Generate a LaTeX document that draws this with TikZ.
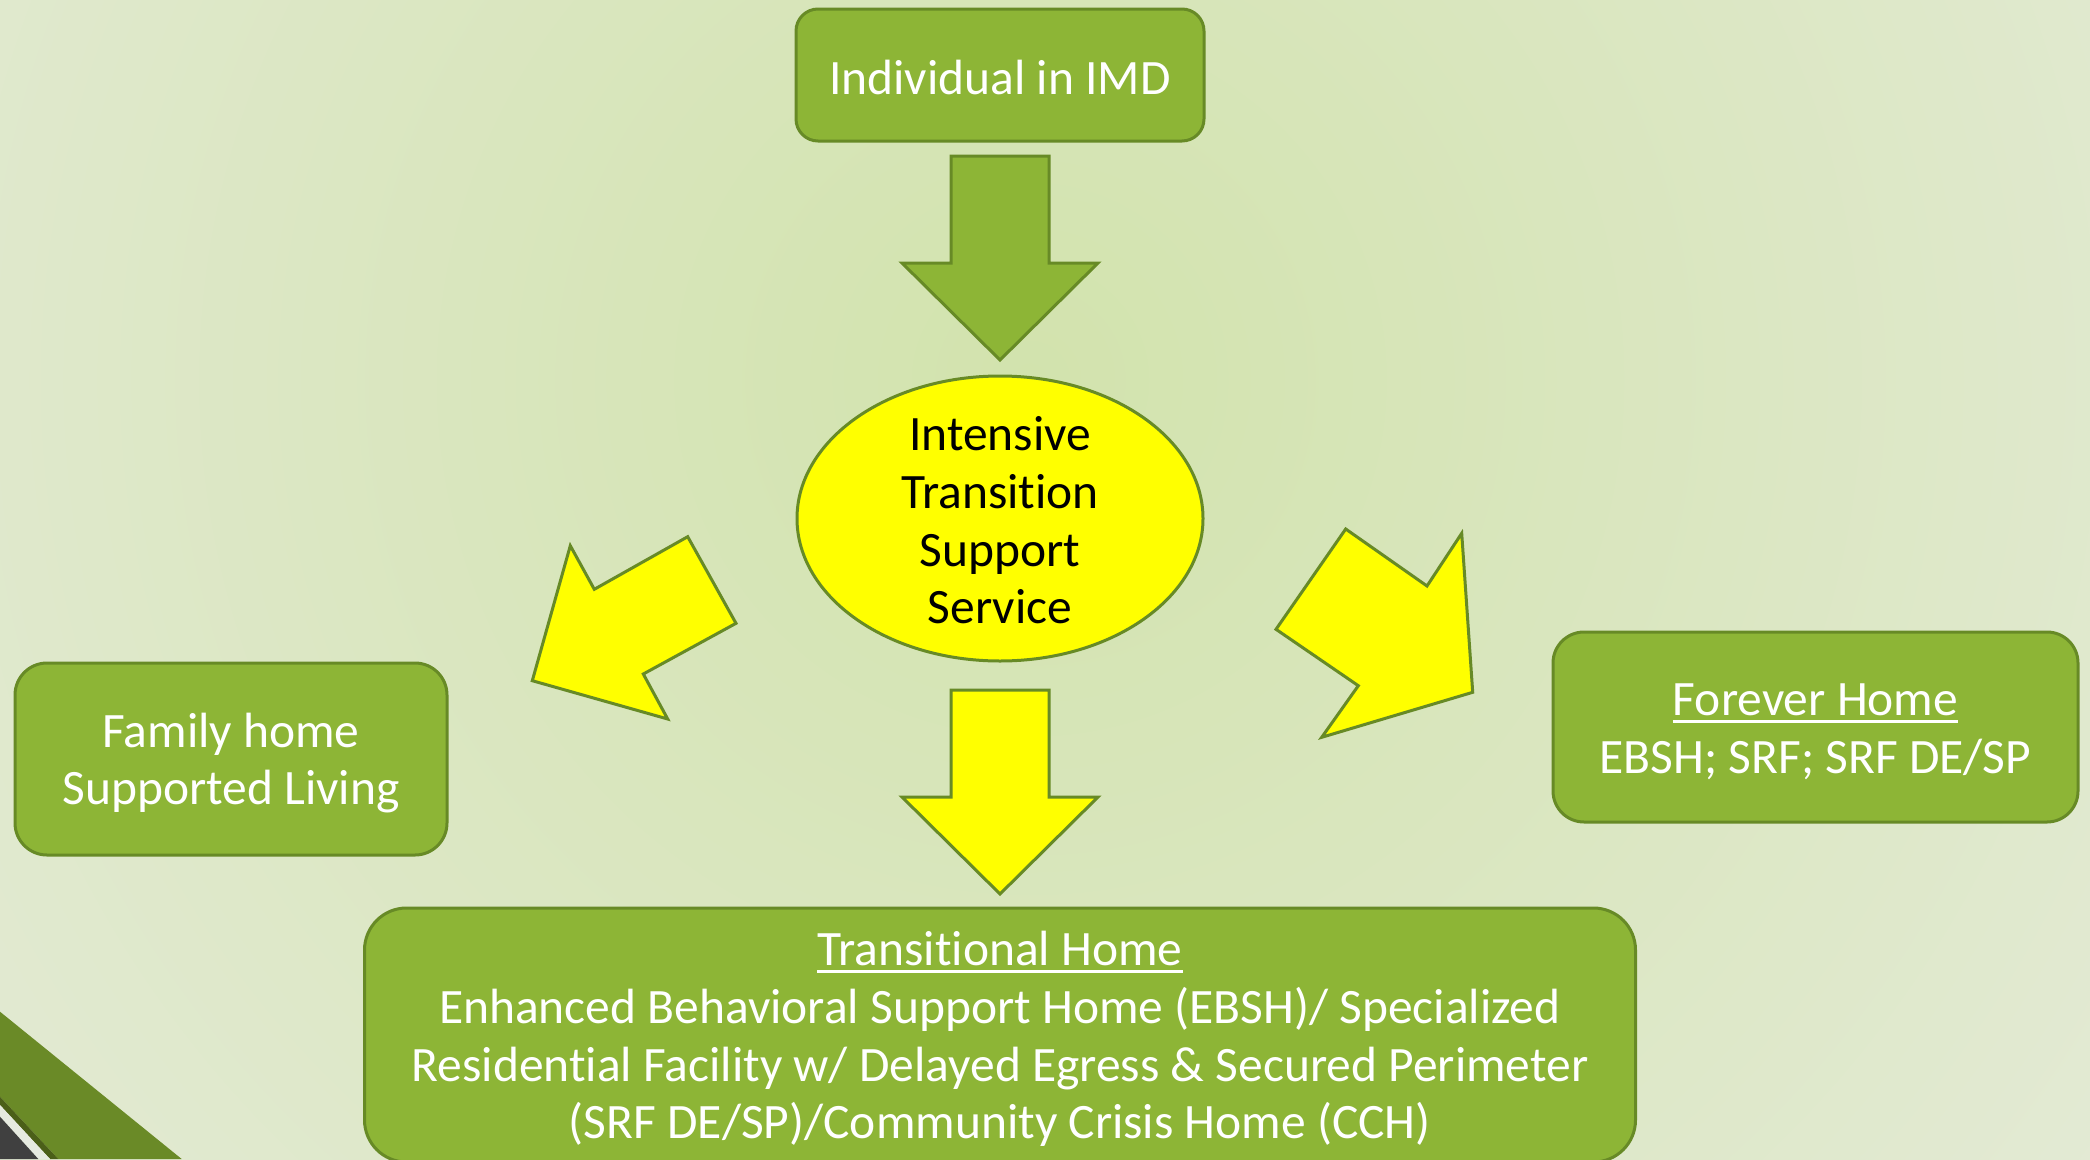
\documentclass[tikz,border=0pt]{standalone}
\usepackage{fontspec}
\setmainfont[Ligatures={NoCommon}]{Carlito}
\usetikzlibrary{shapes.geometric}
\definecolor{bginner}{HTML}{D2E3AD}
\definecolor{bgouter}{HTML}{EAEDE5}
\definecolor{boxgreen}{HTML}{8DB536}
\definecolor{edgegreen}{HTML}{678A26}
\definecolor{bandgreen}{HTML}{6A8A27}
\definecolor{banddark}{HTML}{4B5F18}
\definecolor{bandlight}{HTML}{E6EAE0}
\definecolor{cornergrey}{HTML}{404040}
\definecolor{arrowyellow}{HTML}{FFFF00}
\newcommand\ulinetext[1]{\leavevmode\vtop{\hbox{#1}\kern3.5pt\hrule height 3pt}}
\tikzset{
  greenbox/.style={draw=edgegreen, line width=3pt, fill=boxgreen, inner sep=0pt},
  boxtext/.style={text=white, align=center, inner sep=0pt,
    font=\fontsize{49.5}{57.7}\selectfont},
  yellowoval/.style={ellipse, draw=edgegreen, line width=3pt, fill=arrowyellow,
    inner sep=0pt},
  ovaltext/.style={text=black, align=center, inner sep=0pt,
    font=\fontsize{49.5}{57.7}\selectfont},
  blockarrow/.style={draw=edgegreen, line width=3pt, line join=miter},
}
\begin{document}
\begin{tikzpicture}[x=1pt,y=-1pt]
\useasboundingbox (0,0) rectangle (2090,1159);
% background
\fill[bgouter] (0,0) rectangle (2090,1159);
\begin{scope}
  \clip (0,0) rectangle (2090,1159);
  \shade[inner color=bginner, outer color=bgouter] (1030,380) circle (1900pt);
\end{scope}
% corner decoration
\fill[bandgreen] (0,1011.7) -- (181.7,1159) -- (58.3,1159) -- (0,1096.7) -- cycle;
\fill[banddark] (0,1096.7) -- (58.3,1159) -- (50,1159) -- (0,1105) -- cycle;
\fill[bandlight] (0,1105) -- (50,1159) -- (38.3,1159) -- (0,1116.7) -- cycle;
\fill[cornergrey] (0,1116.7) -- (38.3,1159) -- (0,1159) -- cycle;

% boxes
\node[greenbox, rounded corners=22pt, minimum width=408pt, minimum height=132pt]
  (imd) at (1000,75) {};
\node[yellowoval, minimum width=406pt, minimum height=285pt]
  (its) at (1000,518.5) {};
\node[greenbox, rounded corners=32pt, minimum width=432pt, minimum height=192pt]
  (family) at (231,759) {};
\node[greenbox, rounded corners=31pt, minimum width=525pt, minimum height=190pt]
  (forever) at (1815.5,727) {};
\node[greenbox, rounded corners=42pt, minimum width=1271pt, minimum height=254pt]
  (trans) at (1000,1035) {};

% texts
\node[boxtext] (imdtext) at ([yshift=-2pt]imd.center) {Individual in IMD};
\node[ovaltext] (itstext) at ([yshift=-2pt]its.center)
  {Intensive\\Transition\\Support\\Service};
\node[boxtext] (familytext) at ([yshift=-4pt]family.center)
  {Family home\\Supported Living};
\node[boxtext] (forevertext) at ([yshift=-5pt]forever.center)
  {\ulinetext{Forever Home}\\EBSH; SRF; SRF DE/SP};
\node[boxtext] (transtext) at ([yshift=-4pt]trans.center) {\ulinetext{Transitional Home}\\
  Enhanced Behavioral Support Home (EBSH)/ Specialized\\
  Residential Facility w/ Delayed Egress \& Secured Perimeter\\
  (SRF DE/SP)/Community Crisis Home (CCH)};

% block arrows
\filldraw[blockarrow, fill=boxgreen] (951,156) -- (1049,156) -- (1049,263) -- (1098,263)
  -- (1000,360) -- (902,263) -- (951,263) -- cycle;
\filldraw[blockarrow, fill=arrowyellow] (951,690) -- (1049,690) -- (1049,797) -- (1098,797)
  -- (1000,894) -- (902,797) -- (951,797) -- cycle;
\filldraw[blockarrow, fill=arrowyellow] (687.7,536.7) -- (736,623.3) -- (643.3,674)
  -- (667.7,719) -- (532.3,680.7) -- (570.3,545.7) -- (594.3,589.3) -- cycle;
\filldraw[blockarrow, fill=arrowyellow] (1345.7,529) -- (1427,586) -- (1461.7,533.3)
  -- (1472.7,692.3) -- (1321.7,737.3) -- (1358.3,685.7) -- (1276,629.3) -- cycle;
\end{tikzpicture}
\end{document}
